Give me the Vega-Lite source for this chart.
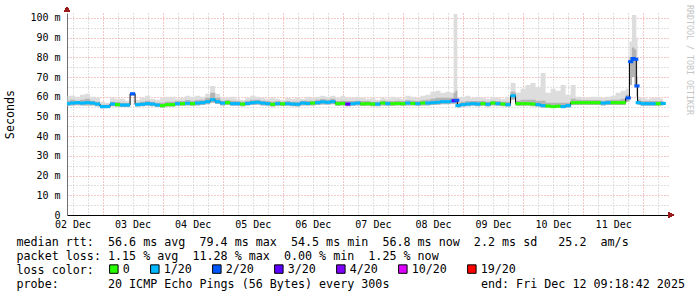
{
  "$schema": "https://vega.github.io/schema/vega-lite/v6.json",
  "autosize": "none",
  "width": 601,
  "height": 202,
  "padding": {"left": 67, "top": 13, "right": 29, "bottom": 82},
  "background": "white",
  "title": {"text": "RRDTOOL / TOBI OETIKER", "orient": "right", "anchor": "start", "frame": "group", "offset": 1, "dx": -8, "font": "DejaVu Sans Mono", "fontSize": 8.3, "fontWeight": "normal", "color": "#c4c4c4"},
  "config": {
    "view": {"stroke": null},
    "font": "DejaVu Sans Mono",
    "axis": {"labelFont": "DejaVu Sans Mono", "titleFont": "DejaVu Sans Mono", "labelColor": "black", "titleColor": "black", "titleFontWeight": "normal"},
    "legend": {"labelFont": "DejaVu Sans Mono", "titleFont": "DejaVu Sans Mono"}
  },
  "data": {"values": [
    {"t":"2025-12-02T10:00:00","med":56.5,"loss":"1/20","lo":55.3,"hi":60.5,"hi2":58},
    {"t":"2025-12-02T12:00:00","med":56.8,"loss":"1/20","lo":55.5,"hi":60.5,"hi2":58.5},
    {"t":"2025-12-02T14:00:00","med":57,"loss":"1/20","lo":55.7,"hi":60,"hi2":58},
    {"t":"2025-12-02T16:00:00","med":56.8,"loss":"1/20","lo":55.5,"hi":61,"hi2":58.5},
    {"t":"2025-12-02T18:00:00","med":57,"loss":"1/20","lo":55.6,"hi":61.5,"hi2":59},
    {"t":"2025-12-02T20:00:00","med":56.8,"loss":"1/20","lo":55.5,"hi":60,"hi2":58},
    {"t":"2025-12-02T22:00:00","med":56.3,"loss":"1/20","lo":55.2,"hi":59.5,"hi2":57.5},
    {"t":"2025-12-03T00:00:00","med":55,"loss":"1/20","lo":54.2,"hi":57.5,"hi2":56},
    {"t":"2025-12-03T02:00:00","med":55,"loss":"1/20","lo":54.3,"hi":57,"hi2":56},
    {"t":"2025-12-03T04:00:00","med":56.3,"loss":"1/20","lo":55.2,"hi":59.5,"hi2":57.5},
    {"t":"2025-12-03T06:00:00","med":56,"loss":"0","lo":55,"hi":59,"hi2":57.3},
    {"t":"2025-12-03T08:00:00","med":55.8,"loss":"1/20","lo":54.8,"hi":59,"hi2":57},
    {"t":"2025-12-03T10:00:00","med":55.8,"loss":"1/20","lo":54.8,"hi":58,"hi2":56.8},
    {"t":"2025-12-03T12:00:00","med":61.5,"loss":"2/20","lo":60.5,"hi":62,"hi2":61.8},
    {"t":"2025-12-03T14:00:00","med":56,"loss":"1/20","lo":55,"hi":58.5,"hi2":57},
    {"t":"2025-12-03T16:00:00","med":56.2,"loss":"1/20","lo":55.2,"hi":59.5,"hi2":57.5},
    {"t":"2025-12-03T18:00:00","med":56.5,"loss":"1/20","lo":55.4,"hi":60.5,"hi2":58},
    {"t":"2025-12-03T20:00:00","med":56.3,"loss":"1/20","lo":55.2,"hi":59,"hi2":57.5},
    {"t":"2025-12-03T22:00:00","med":55.8,"loss":"1/20","lo":54.8,"hi":58.5,"hi2":57},
    {"t":"2025-12-04T00:00:00","med":55.5,"loss":"0","lo":54.6,"hi":59.5,"hi2":57},
    {"t":"2025-12-04T02:00:00","med":56,"loss":"0","lo":55,"hi":60,"hi2":57.5},
    {"t":"2025-12-04T04:00:00","med":56,"loss":"0","lo":55,"hi":60,"hi2":57.5},
    {"t":"2025-12-04T06:00:00","med":56.5,"loss":"1/20","lo":55.4,"hi":59,"hi2":57.8},
    {"t":"2025-12-04T08:00:00","med":56.5,"loss":"0","lo":55.4,"hi":59.5,"hi2":57.8},
    {"t":"2025-12-04T10:00:00","med":56.7,"loss":"1/20","lo":55.6,"hi":60.5,"hi2":58.3},
    {"t":"2025-12-04T12:00:00","med":56.5,"loss":"0","lo":55.4,"hi":60,"hi2":58},
    {"t":"2025-12-04T14:00:00","med":56.8,"loss":"1/20","lo":55.6,"hi":60.5,"hi2":58.3},
    {"t":"2025-12-04T16:00:00","med":57,"loss":"1/20","lo":55.8,"hi":60,"hi2":58.5},
    {"t":"2025-12-04T18:00:00","med":57.5,"loss":"1/20","lo":56.2,"hi":61.5,"hi2":59.5},
    {"t":"2025-12-04T20:00:00","med":58.5,"loss":"1/20","lo":57,"hi":65.5,"hi2":62},
    {"t":"2025-12-04T22:00:00","med":57.5,"loss":"1/20","lo":56.3,"hi":61.5,"hi2":59.5},
    {"t":"2025-12-05T00:00:00","med":56.8,"loss":"1/20","lo":55.6,"hi":59.5,"hi2":58},
    {"t":"2025-12-05T02:00:00","med":57,"loss":"0","lo":55.8,"hi":59.5,"hi2":58.3},
    {"t":"2025-12-05T04:00:00","med":56.5,"loss":"1/20","lo":55.4,"hi":60,"hi2":58},
    {"t":"2025-12-05T06:00:00","med":56.5,"loss":"1/20","lo":55.4,"hi":59,"hi2":57.8},
    {"t":"2025-12-05T08:00:00","med":56.3,"loss":"0","lo":55.2,"hi":58.5,"hi2":57.5},
    {"t":"2025-12-05T10:00:00","med":56.6,"loss":"1/20","lo":55.5,"hi":59.5,"hi2":58},
    {"t":"2025-12-05T12:00:00","med":57,"loss":"1/20","lo":55.8,"hi":60.5,"hi2":58.5},
    {"t":"2025-12-05T14:00:00","med":57.2,"loss":"1/20","lo":56,"hi":60,"hi2":58.5},
    {"t":"2025-12-05T16:00:00","med":56.8,"loss":"1/20","lo":55.6,"hi":59.5,"hi2":58},
    {"t":"2025-12-05T18:00:00","med":56.5,"loss":"1/20","lo":55.4,"hi":59,"hi2":57.8},
    {"t":"2025-12-05T20:00:00","med":56.2,"loss":"0","lo":55.1,"hi":59.5,"hi2":57.5},
    {"t":"2025-12-05T22:00:00","med":56.5,"loss":"1/20","lo":55.4,"hi":59,"hi2":57.8},
    {"t":"2025-12-06T00:00:00","med":56.4,"loss":"0","lo":55.3,"hi":58.5,"hi2":57.5},
    {"t":"2025-12-06T02:00:00","med":56.5,"loss":"1/20","lo":55.4,"hi":59.5,"hi2":57.8},
    {"t":"2025-12-06T04:00:00","med":56.3,"loss":"1/20","lo":55.2,"hi":59,"hi2":57.5},
    {"t":"2025-12-06T06:00:00","med":56.2,"loss":"1/20","lo":55.1,"hi":59.5,"hi2":57.5},
    {"t":"2025-12-06T08:00:00","med":56.8,"loss":"1/20","lo":55.6,"hi":59,"hi2":58},
    {"t":"2025-12-06T10:00:00","med":56.6,"loss":"1/20","lo":55.5,"hi":60,"hi2":58},
    {"t":"2025-12-06T12:00:00","med":56.8,"loss":"0","lo":55.6,"hi":59.5,"hi2":58},
    {"t":"2025-12-06T14:00:00","med":57,"loss":"1/20","lo":55.8,"hi":60,"hi2":58.5},
    {"t":"2025-12-06T16:00:00","med":57.4,"loss":"1/20","lo":56.1,"hi":60.5,"hi2":58.8},
    {"t":"2025-12-06T18:00:00","med":57.2,"loss":"1/20","lo":56,"hi":60,"hi2":58.5},
    {"t":"2025-12-06T20:00:00","med":57.5,"loss":"1/20","lo":56.2,"hi":60.5,"hi2":59},
    {"t":"2025-12-06T22:00:00","med":56.5,"loss":"0","lo":55.4,"hi":59.5,"hi2":57.8},
    {"t":"2025-12-07T00:00:00","med":56.6,"loss":"0","lo":55.5,"hi":60.5,"hi2":58},
    {"t":"2025-12-07T02:00:00","med":56.3,"loss":"3/20","lo":55.2,"hi":59.5,"hi2":57.8},
    {"t":"2025-12-07T04:00:00","med":56.5,"loss":"1/20","lo":55.4,"hi":59.5,"hi2":57.8},
    {"t":"2025-12-07T06:00:00","med":56.8,"loss":"1/20","lo":55.6,"hi":60,"hi2":58},
    {"t":"2025-12-07T08:00:00","med":56.4,"loss":"0","lo":55.3,"hi":59.5,"hi2":57.8},
    {"t":"2025-12-07T10:00:00","med":56.5,"loss":"0","lo":55.4,"hi":59,"hi2":57.8},
    {"t":"2025-12-07T12:00:00","med":56.3,"loss":"0","lo":55.2,"hi":59.5,"hi2":57.5},
    {"t":"2025-12-07T14:00:00","med":56.3,"loss":"1/20","lo":55.2,"hi":58.5,"hi2":57.5},
    {"t":"2025-12-07T16:00:00","med":56.8,"loss":"0","lo":55.6,"hi":59.5,"hi2":58},
    {"t":"2025-12-07T18:00:00","med":56.5,"loss":"1/20","lo":55.4,"hi":59,"hi2":57.8},
    {"t":"2025-12-07T20:00:00","med":56.5,"loss":"0","lo":55.4,"hi":60,"hi2":57.8},
    {"t":"2025-12-07T22:00:00","med":56.6,"loss":"0","lo":55.5,"hi":59.5,"hi2":58},
    {"t":"2025-12-08T00:00:00","med":56.5,"loss":"0","lo":55.4,"hi":59,"hi2":57.8},
    {"t":"2025-12-08T02:00:00","med":56.8,"loss":"1/20","lo":55.6,"hi":60.5,"hi2":58.2},
    {"t":"2025-12-08T04:00:00","med":56.6,"loss":"0","lo":55.5,"hi":60,"hi2":58},
    {"t":"2025-12-08T06:00:00","med":56.5,"loss":"1/20","lo":55.4,"hi":59.5,"hi2":57.8},
    {"t":"2025-12-08T08:00:00","med":56.8,"loss":"0","lo":55.6,"hi":60.5,"hi2":58.2},
    {"t":"2025-12-08T10:00:00","med":56.8,"loss":"1/20","lo":55.6,"hi":61,"hi2":58.5},
    {"t":"2025-12-08T12:00:00","med":57,"loss":"1/20","lo":55.8,"hi":62.5,"hi2":59},
    {"t":"2025-12-08T14:00:00","med":57.2,"loss":"1/20","lo":56,"hi":63,"hi2":59.5},
    {"t":"2025-12-08T16:00:00","med":57.5,"loss":"1/20","lo":56.2,"hi":62,"hi2":59.5},
    {"t":"2025-12-08T18:00:00","med":57.5,"loss":"1/20","lo":56.2,"hi":62.5,"hi2":59.5},
    {"t":"2025-12-08T20:00:00","med":57.8,"loss":"1/20","lo":56.5,"hi":62,"hi2":59.5},
    {"t":"2025-12-08T20:30:00","med":58,"loss":"3/20","lo":56.5,"hi":102,"hi2":62},
    {"t":"2025-12-08T21:30:00","med":58.2,"loss":"2/20","lo":56.5,"hi":102,"hi2":63},
    {"t":"2025-12-08T22:00:00","med":55.5,"loss":"1/20","lo":54.6,"hi":59.5,"hi2":57},
    {"t":"2025-12-09T00:00:00","med":56,"loss":"1/20","lo":55,"hi":60,"hi2":57.5},
    {"t":"2025-12-09T02:00:00","med":56.3,"loss":"1/20","lo":55.2,"hi":60.5,"hi2":57.8},
    {"t":"2025-12-09T04:00:00","med":56.5,"loss":"1/20","lo":55.4,"hi":59.5,"hi2":57.8},
    {"t":"2025-12-09T06:00:00","med":56.3,"loss":"1/20","lo":55.2,"hi":60,"hi2":57.8},
    {"t":"2025-12-09T08:00:00","med":56.5,"loss":"0","lo":55.4,"hi":59.5,"hi2":57.8},
    {"t":"2025-12-09T10:00:00","med":56.2,"loss":"1/20","lo":55.1,"hi":59,"hi2":57.5},
    {"t":"2025-12-09T12:00:00","med":56.8,"loss":"0","lo":55.6,"hi":60,"hi2":58},
    {"t":"2025-12-09T14:00:00","med":56.5,"loss":"1/20","lo":55.4,"hi":59.5,"hi2":57.8},
    {"t":"2025-12-09T16:00:00","med":56.3,"loss":"0","lo":55.2,"hi":59,"hi2":57.5},
    {"t":"2025-12-09T18:00:00","med":56,"loss":"1/20","lo":55,"hi":60,"hi2":57.5},
    {"t":"2025-12-09T20:00:00","med":60.5,"loss":"1/20","lo":58.5,"hi":67,"hi2":62.5},
    {"t":"2025-12-09T22:00:00","med":56.5,"loss":"0","lo":55.4,"hi":62,"hi2":58},
    {"t":"2025-12-10T00:00:00","med":56.5,"loss":"0","lo":55.4,"hi":64,"hi2":58.5},
    {"t":"2025-12-10T02:00:00","med":56.5,"loss":"0","lo":55.4,"hi":66,"hi2":58.5},
    {"t":"2025-12-10T04:00:00","med":56.3,"loss":"0","lo":55.2,"hi":67,"hi2":58.5},
    {"t":"2025-12-10T06:00:00","med":56,"loss":"1/20","lo":55,"hi":65,"hi2":58},
    {"t":"2025-12-10T08:00:00","med":55.5,"loss":"1/20","lo":54.6,"hi":72,"hi2":58},
    {"t":"2025-12-10T10:00:00","med":55.3,"loss":"0","lo":54.5,"hi":62,"hi2":57},
    {"t":"2025-12-10T12:00:00","med":55,"loss":"0","lo":54.5,"hi":64,"hi2":57},
    {"t":"2025-12-10T14:00:00","med":55.2,"loss":"0","lo":54.5,"hi":63,"hi2":57},
    {"t":"2025-12-10T16:00:00","med":55,"loss":"1/20","lo":54.5,"hi":66,"hi2":57},
    {"t":"2025-12-10T18:00:00","med":55.5,"loss":"1/20","lo":54.6,"hi":61,"hi2":57},
    {"t":"2025-12-10T20:00:00","med":57,"loss":"0","lo":55.8,"hi":66,"hi2":59},
    {"t":"2025-12-10T22:00:00","med":57,"loss":"0","lo":55.8,"hi":60,"hi2":58.5},
    {"t":"2025-12-11T00:00:00","med":57,"loss":"0","lo":55.8,"hi":59.5,"hi2":58.3},
    {"t":"2025-12-11T02:00:00","med":57,"loss":"0","lo":55.8,"hi":59.5,"hi2":58.3},
    {"t":"2025-12-11T04:00:00","med":57,"loss":"0","lo":55.8,"hi":60,"hi2":58.3},
    {"t":"2025-12-11T06:00:00","med":57,"loss":"0","lo":55.8,"hi":60,"hi2":58.3},
    {"t":"2025-12-11T08:00:00","med":56.8,"loss":"1/20","lo":55.6,"hi":59.5,"hi2":58},
    {"t":"2025-12-11T10:00:00","med":57,"loss":"1/20","lo":55.8,"hi":60,"hi2":58.3},
    {"t":"2025-12-11T12:00:00","med":57,"loss":"0","lo":55.8,"hi":60.5,"hi2":58.5},
    {"t":"2025-12-11T14:00:00","med":57,"loss":"0","lo":55.8,"hi":62,"hi2":58.5},
    {"t":"2025-12-11T16:00:00","med":57,"loss":"0","lo":55.8,"hi":63,"hi2":59},
    {"t":"2025-12-11T18:00:00","med":59.4,"loss":"2/20","lo":57.5,"hi":64,"hi2":61},
    {"t":"2025-12-11T19:00:00","med":77.8,"loss":"2/20","lo":66,"hi":88,"hi2":80},
    {"t":"2025-12-11T20:00:00","med":79.4,"loss":"2/20","lo":70,"hi":101.5,"hi2":85},
    {"t":"2025-12-11T21:00:00","med":79,"loss":"2/20","lo":66,"hi":101.5,"hi2":84},
    {"t":"2025-12-11T21:30:00","med":65.5,"loss":"2/20","lo":60,"hi":90,"hi2":70},
    {"t":"2025-12-11T22:00:00","med":57,"loss":"1/20","lo":55.8,"hi":60,"hi2":58.5},
    {"t":"2025-12-12T00:00:00","med":56.5,"loss":"1/20","lo":55.4,"hi":59.5,"hi2":57.8},
    {"t":"2025-12-12T02:00:00","med":56.5,"loss":"1/20","lo":55.4,"hi":59,"hi2":57.8},
    {"t":"2025-12-12T04:00:00","med":56.5,"loss":"1/20","lo":55.4,"hi":59.5,"hi2":57.8},
    {"t":"2025-12-12T06:00:00","med":56.5,"loss":"0","lo":55.4,"hi":59.5,"hi2":57.8},
    {"t":"2025-12-12T08:00:00","med":56.6,"loss":"1/20","lo":55.5,"hi":59,"hi2":57.8}
  ]},
  "layer": [
    {
      "mark": {"type": "area", "interpolate": "step", "color": "#dddddd", "clip": true},
      "encoding": {
        "x": {"field": "t", "type": "temporal",
          "scale": {"domain": ["2025-12-02T09:48:00", "2025-12-12T09:54:00"], "nice": false},
          "axis": {
            "values": [
              {"year":2025,"month":12,"date":2,"hours":12},{"year":2025,"month":12,"date":2,"hours":18},
              {"year":2025,"month":12,"date":3,"hours":0},{"year":2025,"month":12,"date":3,"hours":6},{"year":2025,"month":12,"date":3,"hours":12},{"year":2025,"month":12,"date":3,"hours":18},
              {"year":2025,"month":12,"date":4,"hours":0},{"year":2025,"month":12,"date":4,"hours":6},{"year":2025,"month":12,"date":4,"hours":12},{"year":2025,"month":12,"date":4,"hours":18},
              {"year":2025,"month":12,"date":5,"hours":0},{"year":2025,"month":12,"date":5,"hours":6},{"year":2025,"month":12,"date":5,"hours":12},{"year":2025,"month":12,"date":5,"hours":18},
              {"year":2025,"month":12,"date":6,"hours":0},{"year":2025,"month":12,"date":6,"hours":6},{"year":2025,"month":12,"date":6,"hours":12},{"year":2025,"month":12,"date":6,"hours":18},
              {"year":2025,"month":12,"date":7,"hours":0},{"year":2025,"month":12,"date":7,"hours":6},{"year":2025,"month":12,"date":7,"hours":12},{"year":2025,"month":12,"date":7,"hours":18},
              {"year":2025,"month":12,"date":8,"hours":0},{"year":2025,"month":12,"date":8,"hours":6},{"year":2025,"month":12,"date":8,"hours":12},{"year":2025,"month":12,"date":8,"hours":18},
              {"year":2025,"month":12,"date":9,"hours":0},{"year":2025,"month":12,"date":9,"hours":6},{"year":2025,"month":12,"date":9,"hours":12},{"year":2025,"month":12,"date":9,"hours":18},
              {"year":2025,"month":12,"date":10,"hours":0},{"year":2025,"month":12,"date":10,"hours":6},{"year":2025,"month":12,"date":10,"hours":12},{"year":2025,"month":12,"date":10,"hours":18},
              {"year":2025,"month":12,"date":11,"hours":0},{"year":2025,"month":12,"date":11,"hours":6},{"year":2025,"month":12,"date":11,"hours":12},{"year":2025,"month":12,"date":11,"hours":18},
              {"year":2025,"month":12,"date":12,"hours":0},{"year":2025,"month":12,"date":12,"hours":6}
            ],
            "tickCount": 200,
            "labelExpr": "hours(datum.value) == 12 ? timeFormat(datum.value, '%d %b') : ''",
            "labelOverlap": false, "labelFlush": false, "labelBound": false,
            "grid": true, "gridDash": [1, 2],
            "gridColor": {"condition": {"test": "hours(datum.value) == 0", "value": "#e89090"}, "value": "#c0c0c0"},
            "ticks": false, "domain": true, "domainColor": "black",
            "labelFontSize": 10, "labelPadding": 4,
            "title": [
              "median rtt:  \u00a056.6 ms avg \u00a079.4 ms max \u00a054.5 ms min \u00a056.8 ms now \u00a02.2 ms sd \u00a0\u00a025.2 \u00a0am/s",
              "packet loss: 1.15 % avg \u00a011.28 % max \u00a00.00 % min \u00a01.25 % now",
              "loss color:",
              "probe: \u00a0\u00a0\u00a0\u00a0\u00a0\u00a020 ICMP Echo Pings (56 Bytes) every 300s \u00a0\u00a0\u00a0\u00a0\u00a0\u00a0\u00a0\u00a0\u00a0\u00a0\u00a0\u00a0end: Fri Dec 12 09:18:42 2025"
            ],
            "titleX": -51, "titleY": 21, "titleAlign": "left", "titleBaseline": "top",
            "titleFontSize": 11.7, "titleLineHeight": 14.3}},
        "y": {"field": "lo", "type": "quantitative",
          "scale": {"domain": [0, 102.5], "nice": false, "zero": false},
          "axis": {
            "values": [0, 5, 10, 15, 20, 25, 30, 35, 40, 45, 50, 55, 60, 65, 70, 75, 80, 85, 90, 95, 100],
            "tickCount": 200,
            "labelExpr": "datum.value % 10 != 0 ? '' : (datum.value == 0 ? '0\u00a0\u00a0' : datum.value + ' m')",
            "labelOverlap": false, "labelFlush": false, "labelBound": false,
            "grid": true, "gridDash": [1, 2],
            "gridColor": {"condition": {"test": "datum.value % 10 == 0", "value": "#e89090"}, "value": "#c0c0c0"},
            "ticks": false, "domain": true, "domainColor": "#707070",
            "labelFontSize": 10, "labelPadding": 7,
            "title": "Seconds", "titleFontSize": 11.7, "titleX": -58, "titleBaseline": "middle"}},
        "y2": {"field": "hi"}
      }
    },
    {
      "mark": {"type": "area", "interpolate": "step", "color": "#b4b4b4", "clip": true},
      "encoding": {
        "x": {"field": "t", "type": "temporal"},
        "y": {"field": "lo", "type": "quantitative"},
        "y2": {"field": "hi2"}
      }
    },
    {
      "mark": {"type": "line", "interpolate": "step", "color": "black", "strokeWidth": 1, "clip": true},
      "encoding": {
        "x": {"field": "t", "type": "temporal"},
        "y": {"field": "med", "type": "quantitative"}
      }
    },
    {
      "mark": {"type": "point", "shape": "M-1,-0.6H1V0.6H-1Z", "size": 27, "filled": true, "opacity": 1, "strokeWidth": 0, "clip": true},
      "encoding": {
        "x": {"field": "t", "type": "temporal"},
        "y": {"field": "med", "type": "quantitative"},
        "color": {"field": "loss", "type": "nominal",
          "scale": {"domain": ["0", "1/20", "2/20", "3/20", "4/20", "10/20", "19/20"], "range": ["#26ff00", "#00b8ff", "#0059ff", "#5e00ff", "#7e00ff", "#dd00ff", "#ff0000"]},
          "legend": {"orient": "none", "legendX": 41, "legendY": 250, "direction": "horizontal", "title": null, "labelFontSize": 11.7, "labelColor": "black", "labelOffset": 3, "symbolType": "square", "symbolSize": 72, "symbolStrokeColor": "black", "symbolStrokeWidth": 1, "symbolOpacity": 1, "columnPadding": 18, "padding": 0}}
      }
    },
    {
      "mark": {"type": "point", "shape": "triangle-up", "filled": true, "size": 30, "color": "#9b1c1c", "opacity": 1, "clip": false},
      "encoding": {
        "x": {"datum": {"year": 2025, "month": 12, "date": 2, "hours": 9, "minutes": 48}, "type": "temporal"},
        "y": {"datum": 104.3, "type": "quantitative"}
      }
    },
    {
      "mark": {"type": "point", "shape": "triangle-right", "filled": true, "size": 30, "color": "#9b1c1c", "opacity": 1, "clip": false},
      "encoding": {
        "x": {"datum": {"year": 2025, "month": 12, "date": 12, "hours": 11, "minutes": 6}, "type": "temporal"},
        "y": {"datum": 0, "type": "quantitative"}
      }
    }
  ]
}
